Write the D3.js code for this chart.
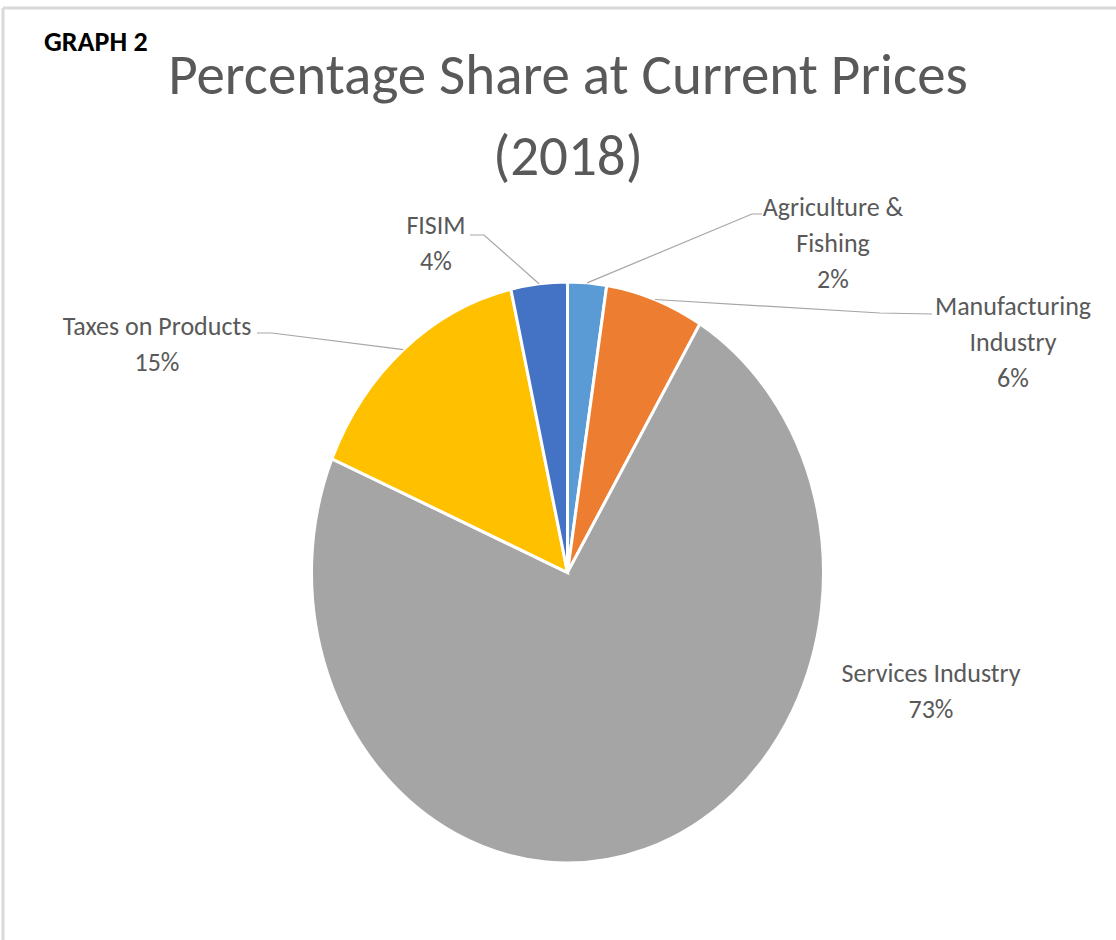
<!DOCTYPE html>
<html>
<head>
<meta charset="utf-8">
<script src="https://cdn.jsdelivr.net/npm/d3@7"></script>
<style>
  body { margin: 0; background: #fff; }
  svg text { font-family: Carlito, "Liberation Sans Narrow", "Open Sans", sans-serif; }
</style>
</head>
<body>
<div id="chart"></div>
<script>
// Data
const categories = ["Agriculture & Fishing", "Manufacturing Industry", "Services Industry", "Taxes on Products", "FISIM"];
const shares     = [2.45, 6.2, 72.75, 15.05, 3.55];
const colors     = ["#5b9bd5", "#ed7d31", "#a5a5a5", "#ffc000", "#4472c4"];
const labelLines = [["Agriculture &", "Fishing"], ["Manufacturing", "Industry"], ["Services Industry"], ["Taxes on Products"], ["FISIM"]];

const W = 1116, H = 940;
const cx = 567.5, cy = 572.5, rx = 256, ry = 290.5;

const svg = d3.select("#chart").append("svg")
  .attr("width", W)
  .attr("height", H);

// frame lines (top + left)
svg.append("line").attr("x1", 3).attr("x2", W).attr("y1", 8).attr("y2", 8)
  .attr("stroke", "#d9d9d9").attr("stroke-width", 3);
svg.append("line").attr("x1", 3).attr("x2", 3).attr("y1", 8).attr("y2", H)
  .attr("stroke", "#d9d9d9").attr("stroke-width", 3);

svg.append("text")
  .attr("x", 44).attr("y", 51)
  .style("font-size", "28px")
  .style("font-weight", "bold")
  .attr("fill", "#000")
  .text("GRAPH 2");

// Title
const title = svg.append("text")
  .attr("text-anchor", "middle")
  .style("font-size", "57px")
  .style("font-weight", 300)
  .attr("fill", "#595959");
title.append("tspan").attr("x", 568).attr("y", 94).text("Percentage Share at Current Prices");
title.append("tspan").attr("x", 568).attr("y", 175).text("(2018)");

// Pie
const pie = d3.pie().sort(null).value(d => d);
const arcs = pie(shares);
const arc = d3.arc().innerRadius(0).outerRadius(rx);

svg.append("g")
  .attr("transform", `translate(${cx},${cy}) scale(1,${ry / rx})`)
  .selectAll("path")
  .data(arcs)
  .join("path")
  .attr("d", arc)
  .attr("fill", (d, i) => colors[i])
  .attr("stroke", "#fff")
  .attr("stroke-width", 3)
  .style("vector-effect", "non-scaling-stroke");

// Labels: text centre and leader elbow (null = no leader)
const labelPos = [
  { x: 833, y: 216, elbow: [[762, 214], [752, 214]] },
  { x: 1013, y: 315, elbow: [[932, 314], [880, 313]] },
  { x: 931, y: 682, elbow: null },
  { x: 157, y: 335, elbow: [[257, 333], [272, 333]] },
  { x: 436, y: 234, elbow: [[470, 235], [484, 235]] }
];
const lineGap = 36;

function edgePoint(d, k) {
  const a = (d.startAngle + d.endAngle) / 2;
  return [cx + Math.sin(a) * rx * k, cy - Math.cos(a) * ry * k];
}

arcs.forEach((d, i) => {
  const p = labelPos[i];
  if (p.elbow) {
    const pts = p.elbow.concat([edgePoint(d, 1.0)]);
    svg.append("path")
      .attr("d", d3.line()(pts))
      .attr("fill", "none")
      .attr("stroke", "#a6a6a6")
      .attr("stroke-width", 1.2);
  }
  const t = svg.append("text")
    .attr("text-anchor", "middle")
    .style("font-size", "26px")
    .attr("fill", "#595959");
  const lines = labelLines[i].concat([Math.round(shares[i]) + "%"]);
  lines.forEach((s, j) => {
    t.append("tspan").attr("x", p.x).attr("y", p.y + j * lineGap).text(s);
  });
});
</script>
</body>
</html>
